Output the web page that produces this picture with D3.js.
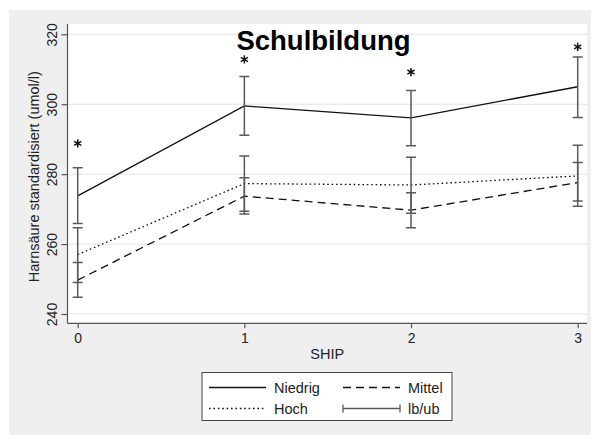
<!DOCTYPE html>
<html>
<head>
<meta charset="utf-8">
<script src="https://cdn.jsdelivr.net/npm/d3@7"></script>
<style>
  html, body { margin: 0; padding: 0; background: #ffffff; }
  svg { display: block; font-family: "Liberation Sans", Arial, sans-serif; }
</style>
</head>
<body>
<svg id="chart" width="591" height="435"></svg>
<script>
// SHIP waves and the y-axis ticks
const waves = [0, 1, 2, 3];
const yTicks = [240, 260, 280, 300, 320];

// Mean standardised uric acid per education group
const niedrig = [273.8, 299.5, 296.1, 305.0];
const mittel  = [249.7, 273.7, 269.7, 277.6];
const hoch    = [257.0, 277.3, 276.9, 279.5];

// Lower / upper bounds of the confidence intervals
const niedrigLb = [265.9, 291.1, 288.1, 296.2];
const niedrigUb = [281.8, 307.9, 303.9, 313.5];
const mittelLb  = [244.8, 268.6, 264.7, 272.3];
const mittelUb  = [254.7, 279.0, 274.7, 283.3];
const hochLb    = [249.0, 269.4, 268.8, 270.8];
const hochUb    = [264.7, 285.2, 284.8, 288.3];

// Significance markers (value at which each asterisk is drawn)
const starValues = [288.8, 312.8, 309.2, 316.4];

const svg = d3.select("#chart");

// Outer graph region
svg.append("rect").attr("x", 9).attr("y", 10).attr("width", 582).attr("height", 425)
  .attr("fill", "#efefef");

const plot = { left: 67.5, right: 587, top: 24, bottom: 323.3 };

svg.append("rect")
  .attr("x", plot.left).attr("y", plot.top)
  .attr("width", plot.right - plot.left).attr("height", plot.bottom - plot.top)
  .attr("fill", "#ffffff");

const x = d3.scaleLinear().domain([0, 3]).range([77.7, 577.7]);
const y = d3.scaleLinear().domain([240, 320]).range([314, 34.3]);

// Horizontal grid lines
svg.append("g").selectAll("line").data(yTicks).join("line")
  .attr("x1", plot.left).attr("x2", plot.right)
  .attr("y1", d => y(d)).attr("y2", d => y(d))
  .attr("stroke", "#e4e4e4").attr("stroke-width", 1);

// Axes
const yAxis = svg.append("g").attr("transform", `translate(${plot.left},0)`)
  .call(d3.axisLeft(y).tickValues(yTicks).tickSize(6).tickPadding(4).tickFormat(d3.format("d")));
yAxis.select(".domain").attr("d", `M0,${plot.top}V${plot.bottom}`);
// rotated y tick labels, centred on their tick
yAxis.selectAll(".tick text")
  .attr("transform", "translate(-15,0) rotate(-90)")
  .attr("x", 0).attr("y", 0).attr("dy", "0.35em")
  .attr("text-anchor", "middle");

const xAxis = svg.append("g").attr("transform", `translate(0,${plot.bottom})`)
  .call(d3.axisBottom(x).tickValues(waves).tickSize(5).tickPadding(5).tickFormat(d3.format("d")));
xAxis.select(".domain").attr("d", `M${plot.left},0H${plot.right}`);

[yAxis, xAxis].forEach(g => {
  g.select(".domain").attr("stroke", "#555555").attr("stroke-width", 1.2);
  g.selectAll(".tick line").attr("stroke", "#555555").attr("stroke-width", 1.2);
  g.selectAll(".tick text").attr("fill", "#222222")
    .style("font-size", "14px").style("font-family", "'Liberation Sans', Arial, sans-serif");
});

// Axis titles
svg.append("text").attr("x", (plot.left + plot.right) / 2).attr("y", 358.5)
  .attr("text-anchor", "middle").attr("fill", "#222222").style("font-size", "14.5px")
  .text("SHIP");
svg.append("text")
  .attr("transform", `translate(39,${(plot.top + plot.bottom) / 2 + 3}) rotate(-90)`)
  .attr("text-anchor", "middle").attr("fill", "#222222").style("font-size", "14.5px")
  .text("Harnsäure standardisiert (umol/l)");

// Lines
const series = [
  { name: "Niedrig", values: niedrig, dash: null },
  { name: "Mittel", values: mittel, dash: "8,5" },
  { name: "Hoch", values: hoch, dash: "1.6,2.8" }
];
const line = d3.line().x((d, i) => x(waves[i])).y(d => y(d));

svg.append("g").selectAll("path").data(series).join("path")
  .attr("d", d => line(d.values))
  .attr("fill", "none").attr("stroke", "#111111").attr("stroke-width", 1.3)
  .attr("stroke-dasharray", d => d.dash);

// Confidence interval bars
const intervals = [
  { lb: niedrigLb, ub: niedrigUb },
  { lb: mittelLb, ub: mittelUb },
  { lb: hochLb, ub: hochUb }
];
const capW = 5;
const ciG = svg.append("g").attr("stroke", "#5a5a5a").attr("stroke-width", 1.5).attr("fill", "none");
intervals.forEach(iv => {
  waves.forEach((w, i) => {
    const cx = x(w), y1 = y(iv.lb[i]), y2 = y(iv.ub[i]);
    ciG.append("path")
      .attr("d", `M${cx},${y1}V${y2}M${cx - capW},${y1}H${cx + capW}M${cx - capW},${y2}H${cx + capW}`);
  });
});

// Significance asterisks
const star = d3.symbol().type(d3.symbolAsterisk).size(48);
svg.append("g").selectAll("path").data(starValues).join("path")
  .attr("transform", (d, i) => `translate(${x(waves[i])},${y(d)})`)
  .attr("d", star)
  .attr("fill", "none").attr("stroke", "#111111").attr("stroke-width", 1.5);

// Title
svg.append("text").attr("x", 323.5).attr("y", 50)
  .attr("text-anchor", "middle").attr("fill", "#000000")
  .style("font-size", "27.5px").style("font-weight", "bold")
  .text("Schulbildung");

// Legend
const lg = svg.append("g");
lg.append("rect").attr("x", 202).attr("y", 372.5).attr("width", 250).attr("height", 48)
  .attr("fill", "#ffffff").attr("stroke", "#444444").attr("stroke-width", 1);

const legendItems = [
  { label: "Niedrig", kind: "line", dash: null, col: 0, row: 0 },
  { label: "Mittel", kind: "line", dash: "8,5", col: 1, row: 0 },
  { label: "Hoch", kind: "line", dash: "1.6,2.8", col: 0, row: 1 },
  { label: "lb/ub", kind: "ci", dash: null, col: 1, row: 1 }
];
const colX = [209, 343];
const rowY = [387.5, 408.5];
legendItems.forEach(it => {
  const x0 = colX[it.col], x1 = x0 + 57, yy = rowY[it.row];
  if (it.kind === "line") {
    lg.append("line").attr("x1", x0).attr("x2", x1).attr("y1", yy).attr("y2", yy)
      .attr("stroke", "#111111").attr("stroke-width", 1.3)
      .attr("stroke-dasharray", it.dash);
  } else {
    lg.append("path")
      .attr("d", `M${x0},${yy}H${x1}M${x0},${yy - 4}V${yy + 4}M${x1},${yy - 4}V${yy + 4}`)
      .attr("stroke", "#5a5a5a").attr("stroke-width", 1.3).attr("fill", "none");
  }
  lg.append("text").attr("x", x1 + 8).attr("y", yy).attr("dy", "0.35em")
    .attr("fill", "#222222").style("font-size", "14.5px").text(it.label);
});
</script>
</body>
</html>
